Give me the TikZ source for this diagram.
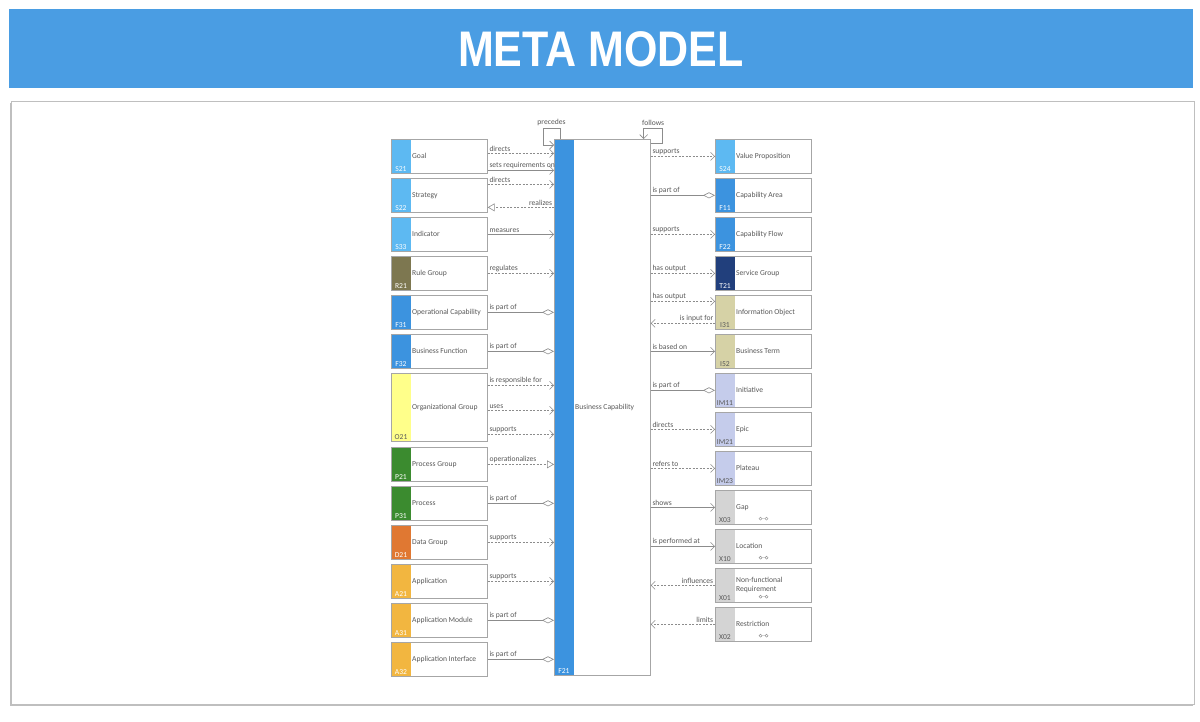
\documentclass[tikz,border=0pt]{standalone}
\usepackage{fontspec}
\setmainfont{Carlito}
\newfontfamily\titlefont{Liberation Sans}
\usetikzlibrary{positioning,arrows.meta,shadows}

\definecolor{barblue}{HTML}{4A9DE3}
\definecolor{sblue}{HTML}{5DB9F2}
\definecolor{fblue}{HTML}{3C93DF}
\definecolor{rolive}{HTML}{7D7750}
\definecolor{oyellow}{HTML}{FFFF8A}
\definecolor{pgreen}{HTML}{3B8B2F}
\definecolor{dorange}{HTML}{E07832}
\definecolor{aamber}{HTML}{F2B640}
\definecolor{tnavy}{HTML}{213F7C}
\definecolor{ikhaki}{HTML}{D6D2A6}
\definecolor{imlav}{HTML}{C5CCEB}
\definecolor{xgray}{HTML}{D4D4D4}
\definecolor{boxgray}{HTML}{A6A6A6}
\definecolor{linegray}{HTML}{8C8C8C}
\definecolor{txtgray}{HTML}{595959}

\tikzset{
  elname/.style={anchor=west, xshift=20pt, inner sep=1pt, align=left, text=txtgray,
    font=\fontsize{7.6}{9}\selectfont},
  elcode/.style={anchor=south, xshift=10pt, yshift=1pt, inner sep=1pt,
    font=\fontsize{7.6}{8}\selectfont},
  elem/.style n args={4}{draw=boxgray, line width=0.7pt, fill=white, anchor=north west,
    inner sep=0pt, minimum width=96pt, minimum height=34pt,
    path picture={\fill[#1] (path picture bounding box.north west) rectangle
      ([xshift=20pt]path picture bounding box.south west);},
    label={[elcode, text=#3]south west:#2}, label={[elname]west:#4}},
  rel/.style={draw=linegray, line width=0.6pt},
  dep/.style={rel, dash pattern=on 2pt off 1.5pt, -{Straight Barb[length=4pt,width=8pt]}},
  assoc/.style={rel, -{Straight Barb[length=4pt,width=8pt]}},
  real/.style={rel, dash pattern=on 2pt off 1.5pt, -{Triangle[open,length=7pt,width=8pt]}},
  agg/.style={rel, -{Diamond[open,length=12pt,width=6pt]}},
  ltxt/.style={pos=0, anchor=south west, inner sep=1.5pt, text=txtgray, font=\fontsize{7.6}{8}\selectfont},
  rtxt/.style={pos=0, anchor=south east, inner sep=1.5pt, text=txtgray, font=\fontsize{7.6}{8}\selectfont},
  lnk/.style={draw=txtgray!70, line width=0.4pt},
}

\begin{document}
\begin{tikzpicture}[x=1pt, y=-1pt]
\useasboundingbox (0,0) rectangle (1200,721);
\fill[white] (0,0) rectangle (1200,721);

% header and panel
\fill[barblue] (9,9) rectangle (1193,88);
\node[text=white, font=\titlefont\bfseries\fontsize{50}{50}\selectfont] (title) at (601,49)
  {\scalebox{0.86}[1]{META MODEL}};
\filldraw[draw=black!25, fill=white, drop shadow={shadow xshift=-1.5pt, shadow yshift=-2pt, opacity=.5}]
  (11,101) rectangle (1194,704);

% left side
\node[elem={sblue}{S21}{white}{Goal}] (goal) at (391,139) {};
\node[elem={sblue}{S22}{white}{Strategy}] (strat) at (391,178) {};
\node[elem={sblue}{S33}{white}{Indicator}] (indic) at (391,217) {};
\node[elem={rolive}{R21}{white}{Rule Group}] (rule) at (391,256) {};
\node[elem={fblue}{F31}{white}{Operational Capability}] (opcap) at (391,295) {};
\node[elem={fblue}{F32}{white}{Business Function}] (bfunc) at (391,334) {};
\node[elem={oyellow}{O21}{txtgray}{Organizational Group}, minimum height=68pt] (org) at (391,373) {};
\node[elem={pgreen}{P21}{white}{Process Group}] (pgrp) at (391,447) {};
\node[elem={pgreen}{P31}{white}{Process}] (proc) at (391,486) {};
\node[elem={dorange}{D21}{white}{Data Group}] (data) at (391,525) {};
\node[elem={aamber}{A21}{white}{Application}] (app) at (391,564) {};
\node[elem={aamber}{A31}{white}{Application Module}] (appmod) at (391,603) {};
\node[elem={aamber}{A32}{white}{Application Interface}] (appif) at (391,642) {};

% centre
\node[elem={fblue}{F21}{white}{Business Capability}, minimum height=536pt] (bc) at (554,139) {};

% right side
\node[elem={sblue}{S24}{white}{Value Proposition}] (vp) at (715,139) {};
\node[elem={fblue}{F11}{white}{Capability Area}] (carea) at (715,178) {};
\node[elem={fblue}{F22}{white}{Capability Flow}] (cflow) at (715,217) {};
\node[elem={tnavy}{T21}{white}{Service Group}] (sgrp) at (715,256) {};
\node[elem={ikhaki}{I31}{txtgray}{Information Object}] (info) at (715,295) {};
\node[elem={ikhaki}{I52}{txtgray}{Business Term}] (term) at (715,334) {};
\node[elem={imlav}{IM11}{txtgray}{Initiative}] (init) at (715,373) {};
\node[elem={imlav}{IM21}{txtgray}{Epic}] (epic) at (715,412) {};
\node[elem={imlav}{IM23}{txtgray}{Plateau}] (plat) at (715,451) {};
\node[elem={xgray}{X03}{txtgray}{Gap}] (gap) at (715,490) {};
\node[elem={xgray}{X10}{txtgray}{Location}] (loc) at (715,529) {};
\node[elem={xgray}{X01}{txtgray}{Non-functional\\Requirement}] (nfr) at (715,568) {};
\node[elem={xgray}{X02}{txtgray}{Restriction}] (restr) at (715,607) {};

\foreach \n in {gap,loc,nfr,restr}
  \draw[lnk] ([shift={(45.5pt,6pt)}]\n.south west) circle (1.5pt) ++(1.5pt,0pt) -- ++(3pt,0pt)
    ++(1.5pt,0pt) circle (1.5pt);

% self loops
\draw[assoc] ([xshift=6pt]bc.north west) -- ++(0,-11) -| node[pos=0.25, above, inner sep=2pt,
  text=txtgray, font=\fontsize{7.6}{8}\selectfont]{precedes} ++(-17,17) -- ([yshift=-6pt]bc.north west);
\draw[assoc] ([yshift=-4pt]bc.north east) -- ++(12,0) |- node[pos=0.75, above, inner sep=2pt,
  text=txtgray, font=\fontsize{7.6}{8}\selectfont]{follows} ++(-19,-15) -- ([xshift=-7pt]bc.north east);

% left connectors
\draw[dep] ([yshift=3pt]goal.east) -- ([yshift=3pt]goal.east -| bc.west) node[ltxt]{directs};
\draw[assoc] ([yshift=-14pt]goal.east) -- ([yshift=-14pt]goal.east -| bc.west) node[ltxt]{sets requirements on};
\draw[dep] ([yshift=11pt]strat.east) -- ([yshift=11pt]strat.east -| bc.west) node[ltxt]{directs};
\draw[real] ([yshift=-12pt]strat.east -| bc.west) -- ([yshift=-12pt]strat.east) node[rtxt]{realizes};
\draw[assoc] (indic.east) -- (indic.east -| bc.west) node[ltxt]{measures};
\draw[dep] (rule.east) -- (rule.east -| bc.west) node[ltxt]{regulates};
\draw[agg] (opcap.east) -- (opcap.east -| bc.west) node[ltxt]{is part of};
\draw[agg] (bfunc.east) -- (bfunc.east -| bc.west) node[ltxt]{is part of};
\draw[dep] ([yshift=22pt]org.east) -- ([yshift=22pt]org.east -| bc.west) node[ltxt]{is responsible for};
\draw[dep] ([yshift=-3pt]org.east) -- ([yshift=-3pt]org.east -| bc.west) node[ltxt]{uses};
\draw[dep] ([yshift=-27pt]org.east) -- ([yshift=-27pt]org.east -| bc.west) node[ltxt]{supports};
\draw[real] (pgrp.east) -- (pgrp.east -| bc.west) node[ltxt]{operationalizes};
\draw[agg] (proc.east) -- (proc.east -| bc.west) node[ltxt]{is part of};
\draw[dep] (data.east) -- (data.east -| bc.west) node[ltxt]{supports};
\draw[dep] (app.east) -- (app.east -| bc.west) node[ltxt]{supports};
\draw[agg] (appmod.east) -- (appmod.east -| bc.west) node[ltxt]{is part of};
\draw[agg] (appif.east) -- (appif.east -| bc.west) node[ltxt]{is part of};

% right connectors
\draw[dep] (vp.west -| bc.east) -- (vp.west) node[ltxt]{supports};
\draw[agg] (carea.west -| bc.east) -- (carea.west) node[ltxt]{is part of};
\draw[dep] (cflow.west -| bc.east) -- (cflow.west) node[ltxt]{supports};
\draw[dep] (sgrp.west -| bc.east) -- (sgrp.west) node[ltxt]{has output};
\draw[dep] ([yshift=11pt]info.west -| bc.east) -- ([yshift=11pt]info.west) node[ltxt]{has output};
\draw[dep] ([yshift=-11pt]info.west) -- ([yshift=-11pt]info.west -| bc.east) node[rtxt]{is input for};
\draw[assoc] (term.west -| bc.east) -- (term.west) node[ltxt]{is based on};
\draw[agg] (init.west -| bc.east) -- (init.west) node[ltxt]{is part of};
\draw[dep] (epic.west -| bc.east) -- (epic.west) node[ltxt]{directs};
\draw[dep] (plat.west -| bc.east) -- (plat.west) node[ltxt]{refers to};
\draw[assoc] (gap.west -| bc.east) -- (gap.west) node[ltxt]{shows};
\draw[assoc] (loc.west -| bc.east) -- (loc.west) node[ltxt]{is performed at};
\draw[dep] (nfr.west) -- (nfr.west -| bc.east) node[rtxt]{influences};
\draw[dep] (restr.west) -- (restr.west -| bc.east) node[rtxt]{limits};
\end{tikzpicture}
\end{document}
